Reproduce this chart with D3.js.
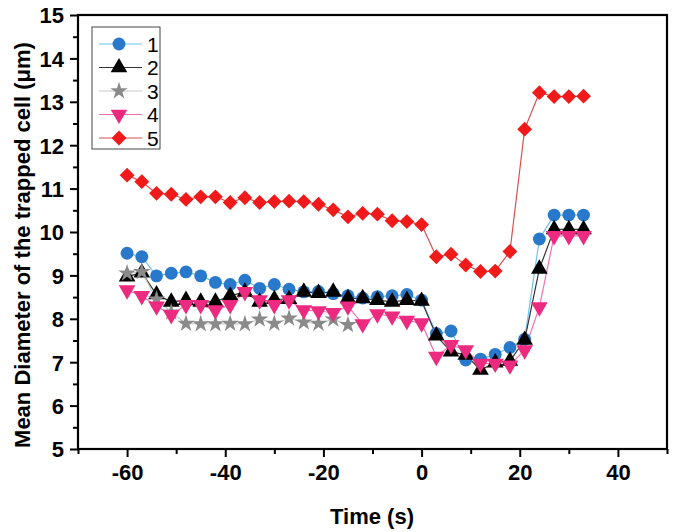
<!DOCTYPE html>
<html><head><meta charset="utf-8">
<script src="https://cdn.jsdelivr.net/npm/d3@7"></script>
<style>body{margin:0;background:#fff}svg{display:block}text{font-family:"Liberation Sans",Arial,sans-serif}</style>
</head><body>
<svg id="c" width="675" height="532"></svg>
<script>
const time = [-60,-57,-54,-51,-48,-45,-42,-39,-36,-33,-30,-27,-24,-21,-18,-15,-12,-9,-6,-3,0,3,6,9,12,15,18,21,24,27,30,33];
const s1 = [9.51,9.43,8.99,9.05,9.08,8.99,8.84,8.79,8.89,8.70,8.79,8.68,8.62,8.63,8.58,8.53,8.48,8.51,8.53,8.56,8.43,7.66,7.72,7.05,7.07,7.18,7.34,7.53,9.84,10.39,10.39,10.39];
const s2 = [8.97,9.06,8.56,8.39,8.43,8.39,8.39,8.53,8.62,8.39,8.45,8.45,8.62,8.59,8.62,8.47,8.47,8.43,8.39,8.43,8.41,7.61,7.24,7.17,6.82,6.99,7.03,7.51,9.15,10.06,10.06,10.06];
const s3 = [9.05,9.08,8.45,8.15,7.89,7.88,7.88,7.89,7.88,7.99,7.89,8.01,7.92,7.89,7.99,7.86];
const s4 = [8.66,8.53,8.29,8.09,8.32,8.32,8.20,8.32,8.62,8.43,8.32,8.43,8.20,8.18,8.14,8.29,7.88,8.11,8.06,7.96,7.90,7.13,7.40,7.28,6.97,6.97,6.93,7.28,8.27,9.91,9.91,9.91];
const s5 = [11.31,11.16,10.89,10.87,10.75,10.81,10.81,10.68,10.79,10.68,10.70,10.71,10.70,10.64,10.51,10.35,10.43,10.41,10.26,10.24,10.17,9.43,9.49,9.24,9.09,9.10,9.55,12.37,13.21,13.12,13.12,13.13];
const seriesNames = ["1","2","3","4","5"];
const xTicks = [-60,-40,-20,0,20,40];
const yTicks = [5,6,7,8,9,10,11,12,13,14,15];

const series = [
  {name:seriesNames[0], vals:s1, line:"#6cc3ee", fill:"#2878cc", sym:d3.symbolCircle, size:130, rot:0},
  {name:seriesNames[1], vals:s2, line:"#333", fill:"#000", sym:d3.symbolTriangle, size:120, rot:0},
  {name:seriesNames[2], vals:s3, line:"#c8c8c8", fill:"#8a8a8a", sym:d3.symbolStar, size:95, rot:0},
  {name:seriesNames[3], vals:s4, line:"#f070b0", fill:"#ec2a80", sym:d3.symbolTriangle, size:120, rot:180},
  {name:seriesNames[4], vals:s5, line:"#d85050", fill:"#f01a1a", sym:d3.symbolSquare, size:110, rot:45}
];

const svg = d3.select("#c");
const L=78,R=667,T=15,B=449;
const x = d3.scaleLinear().domain([-70,50]).range([L,R]);
const y = d3.scaleLinear().domain([5,15]).range([B,T]);
const fmt = d => String(d);

// frame
svg.append("rect").attr("x",L).attr("y",T).attr("width",R-L).attr("height",B-T)
  .attr("fill","none").attr("stroke","#000").attr("stroke-width",2.2);

// axes
const xAx = svg.append("g").attr("transform",`translate(0,${B})`)
  .call(d3.axisBottom(x).tickValues(xTicks).tickSize(8).tickPadding(6).tickFormat(fmt));
const xMin = svg.append("g").attr("transform",`translate(0,${B})`)
  .call(d3.axisBottom(x).tickValues([-70,-50,-30,-10,10,30,50]).tickSize(5).tickFormat(""));
const yAx = svg.append("g").attr("transform",`translate(${L},0)`)
  .call(d3.axisLeft(y).tickValues(yTicks).tickSize(8).tickPadding(6).tickFormat(fmt));
const yMin = svg.append("g").attr("transform",`translate(${L},0)`)
  .call(d3.axisLeft(y).tickValues(d3.range(5.5,15,1)).tickSize(5).tickFormat(""));
[xAx,xMin,yAx,yMin].forEach(g=>{
  g.select(".domain").remove();
  g.selectAll("line").attr("stroke","#000").attr("stroke-width",2);
  g.selectAll("text").attr("fill","#000").style("font-size","22px").style("font-weight","bold");
});
xAx.selectAll("text").attr("dy","0.75em");
yAx.selectAll("text").attr("dy","0.36em");

// lines and markers
const line = d3.line().x((d,i)=>x(time[i])).y(d=>y(d));
series.forEach(s=>{
  svg.append("path").datum(s.vals).attr("d",line).attr("fill","none")
    .attr("stroke",s.line).attr("stroke-width",1.2);
});
series.forEach(s=>{
  const sym = d3.symbol().type(s.sym).size(s.size);
  svg.append("g").selectAll("path").data(s.vals).join("path")
    .attr("d",sym)
    .attr("transform",(d,i)=>`translate(${x(time[i])},${y(d)}) rotate(${s.rot})`)
    .attr("fill",s.fill);
});

// legend
const lg = svg.append("g");
lg.append("rect").attr("x",92).attr("y",27).attr("width",68).attr("height",122)
  .attr("fill","#fff").attr("stroke","#444").attr("stroke-width",1);
series.forEach((s,i)=>{
  const yy = 44 + i*23.5;
  lg.append("line").attr("x1",99).attr("x2",142).attr("y1",yy).attr("y2",yy)
    .attr("stroke",s.line).attr("stroke-width",1.2);
  lg.append("path").attr("d",d3.symbol().type(s.sym).size(s.size)())
    .attr("transform",`translate(119,${yy}) rotate(${s.rot})`).attr("fill",s.fill);
  lg.append("text").attr("x",147).attr("y",yy).attr("dy","0.36em")
    .style("font-size","21px").text(s.name);
});

// titles
svg.append("text").attr("x",372).attr("y",524).attr("text-anchor","middle")
  .style("font-size","22px").style("font-weight","bold").text("Time (s)");
svg.append("text").attr("transform","translate(30,245) rotate(-90)").attr("text-anchor","middle")
  .style("font-size","22px").style("font-weight","bold")
  .text("Mean Diameter of the trapped cell (\u03bcm)");
</script>
</body></html>
